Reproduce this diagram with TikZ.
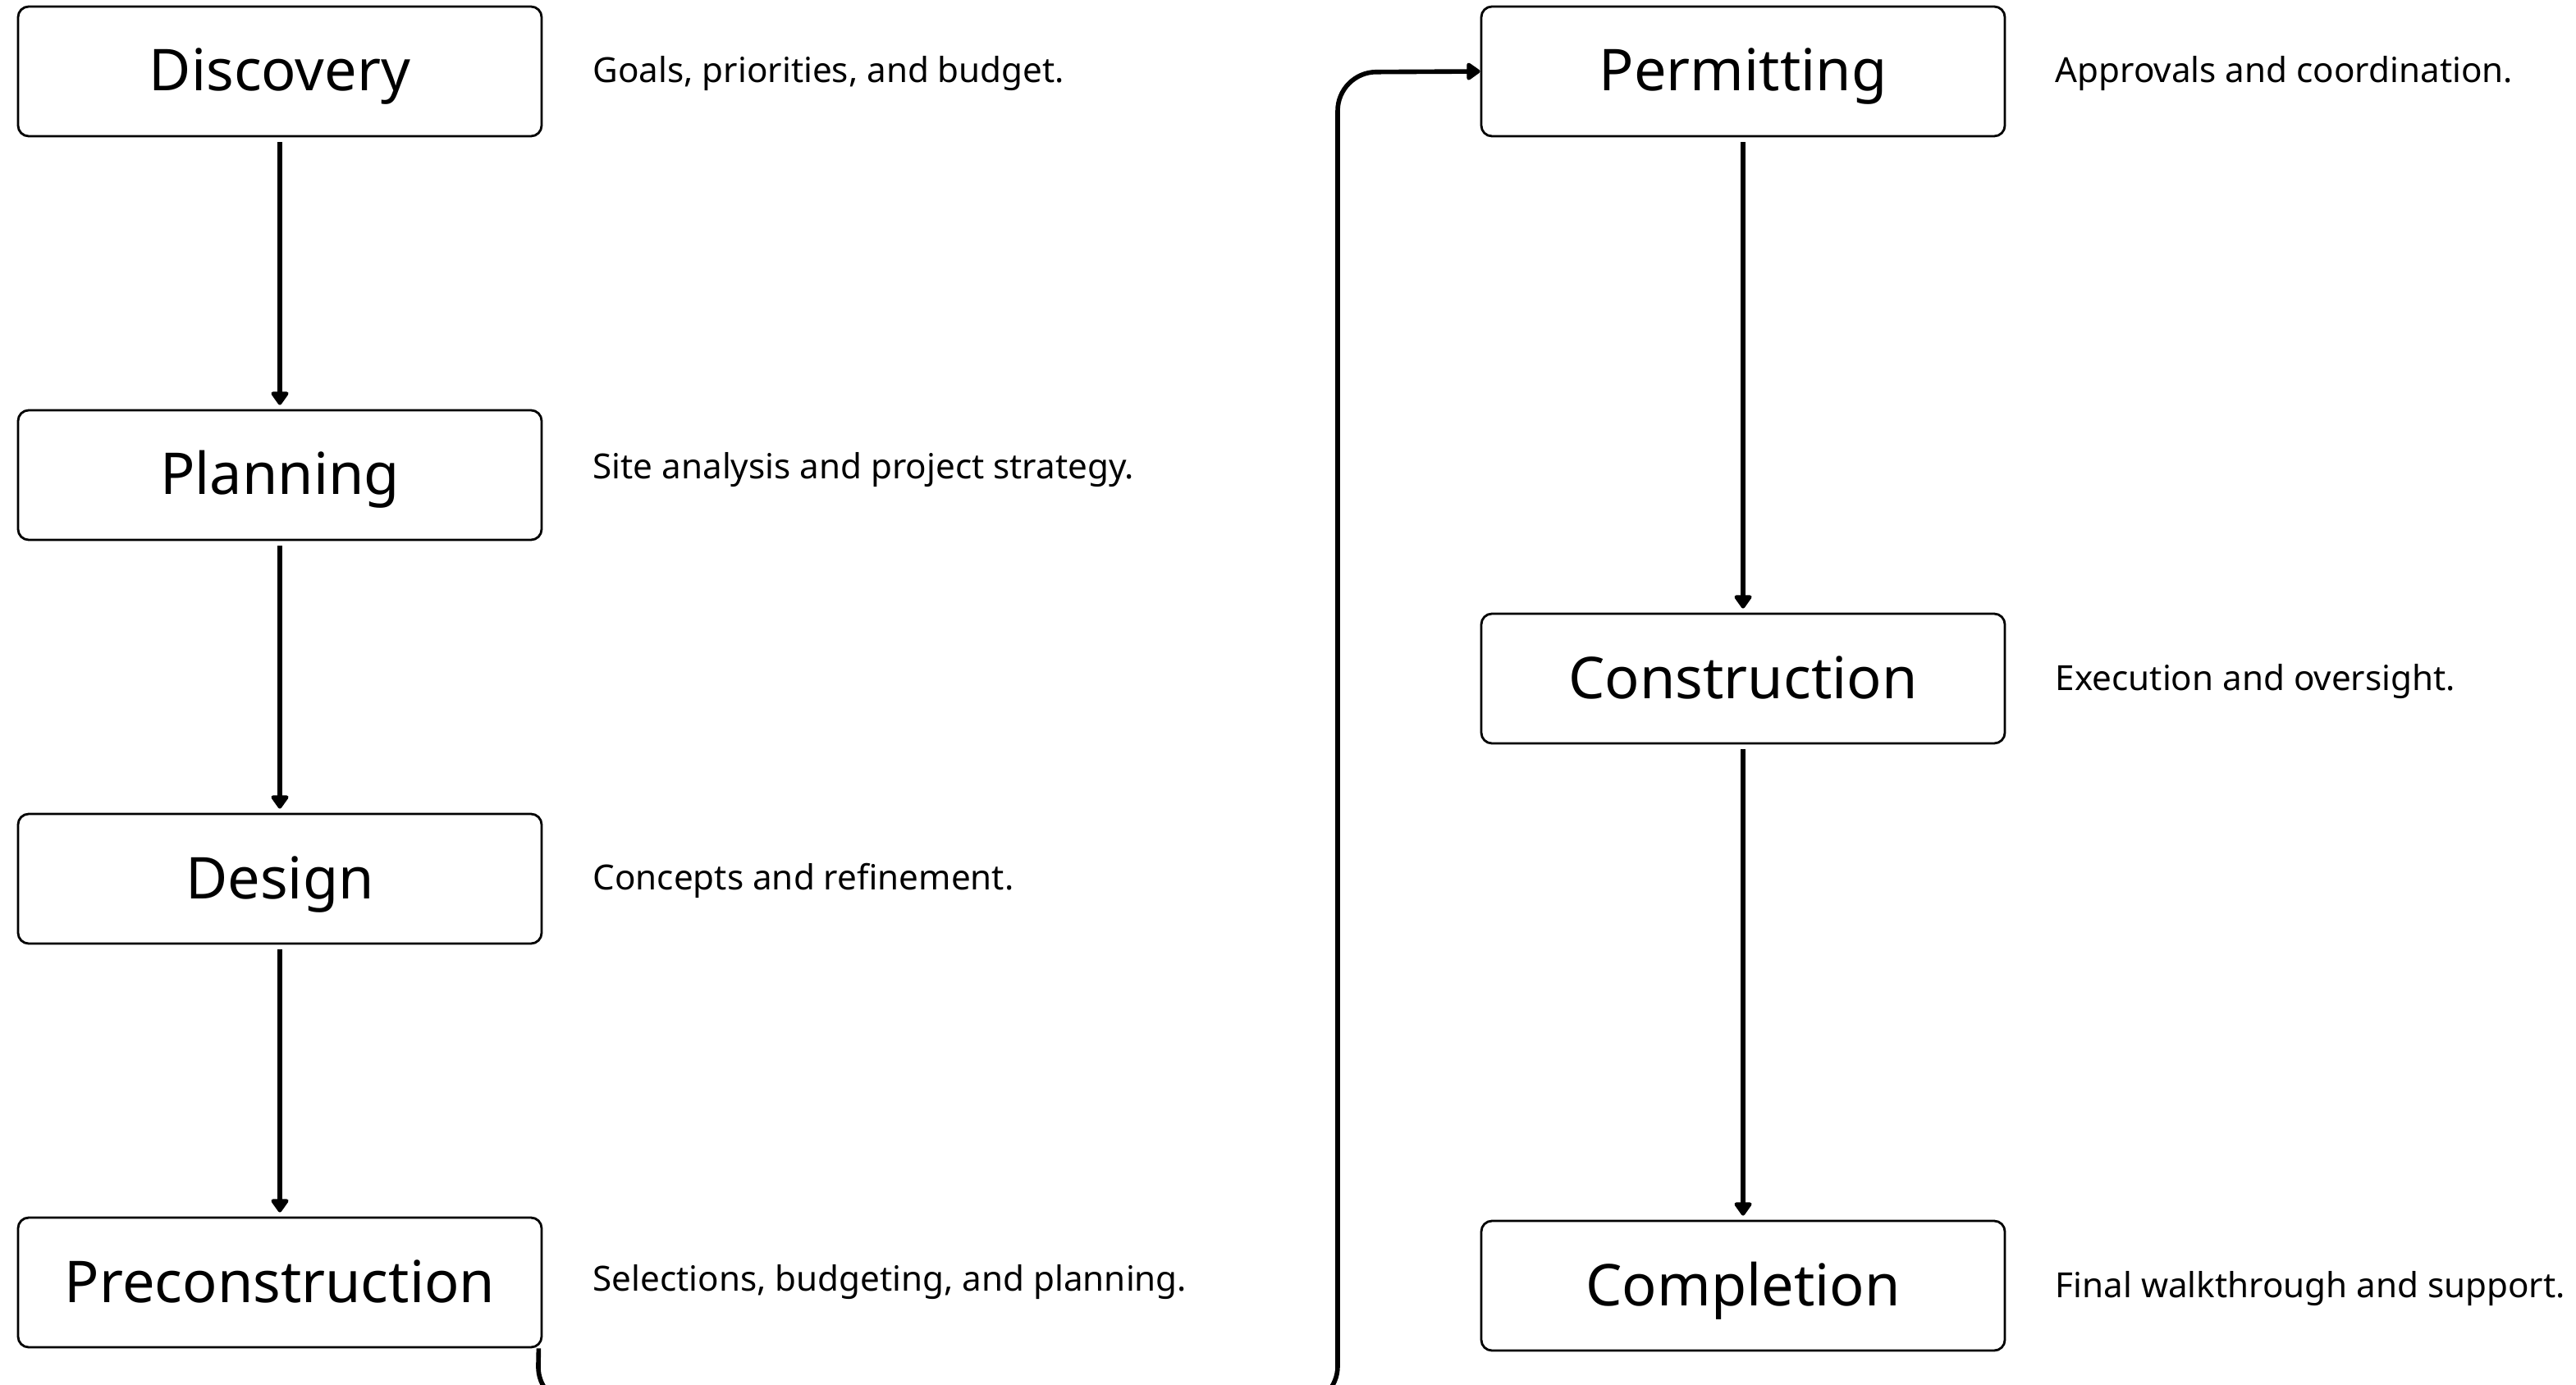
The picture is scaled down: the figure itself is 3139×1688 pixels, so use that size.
\documentclass[tikz,border=0pt]{standalone}
\usepackage{fontspec}
\setmainfont{Noto Sans}
\usetikzlibrary{arrows.meta}
\begin{document}
\begin{tikzpicture}[x=0.1mm,y=-0.1mm,
  stagebox/.style={draw=black, line width=0.8pt, rounded corners=1.3mm, minimum width=63.8mm, minimum height=15.8mm, inner sep=0pt, text height=4.8mm, text depth=0pt, font=\fontsize{20}{24}\selectfont},
  desc/.style={anchor=base west, inner sep=0pt, font=\fontsize{12}{14}\selectfont},
  flow/.style={line width=1.6pt, -{Triangle[width=2.4mm,length=1.8mm,round]}, line join=round, shorten <=0.6mm, shorten >=0.5mm},
  loop/.style={line width=1.6pt, -{Triangle[width=2.4mm,length=1.8mm,round]}, line join=round, rounded corners=4.7mm}]
\clip (0,0) rectangle (3139,1688);
\fill[white] (0,0) rectangle (3139,1688);
% left column
\node[stagebox] (disc) at (341,87) {Discovery};
\node[stagebox] (plan) at (341,579) {Planning};
\node[stagebox] (des) at (341,1071) {Design};
\node[stagebox] (pre) at (341,1563) {Preconstruction};
% right column
\node[stagebox] (perm) at (2124,87) {Permitting};
\node[stagebox] (cons) at (2124,827) {Construction};
\node[stagebox] (comp) at (2124,1567) {Completion};
% descriptions
\node[desc] (d1) at (722,101) {Goals, priorities, and budget.};
\node[desc] (d2) at (722,584) {Site analysis and project strategy.};
\node[desc] (d3) at (722,1084) {Concepts and refinement.};
\node[desc] (d4) at (722,1573) {Selections, budgeting, and planning.};
\node[desc] (d5) at (2504,101) {Approvals and coordination.};
\node[desc] (d6) at (2504,841) {Execution and oversight.};
\node[desc] (d7) at (2504,1581) {Final walkthrough and support.};
% arrows
\draw[flow] (disc) -- (plan);
\draw[flow] (plan) -- (des);
\draw[flow] (des) -- (pre);
\draw[flow] (perm) -- (cons);
\draw[flow] (cons) -- (comp);
\coordinate (lowL) at (655,1712);
\coordinate (lowR) at (1630,1712);
\coordinate (topR) at (1630,88);
\draw[loop] ([xshift=-0.5mm]pre.south east) -- (lowL) -- (lowR) -- (topR) -- (perm.west);
\end{tikzpicture}
\end{document}
